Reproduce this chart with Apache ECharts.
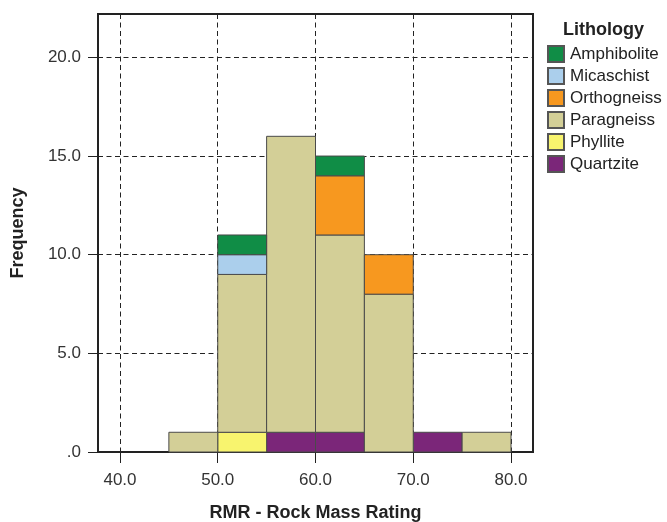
<!DOCTYPE html>
<html>
<head>
<meta charset="utf-8">
<script src="https://cdn.jsdelivr.net/npm/echarts@6/dist/echarts.min.js"></script>
<style>
  html, body { margin: 0; padding: 0; background: #fff; }
  #chart { width: 667px; height: 522px; }
</style>
</head>
<body>
<div id="chart"></div>
<script>
// Histogram bins of RMR (width 5), stacked by lithology
const binStarts = [45, 50, 55, 60, 65, 70, 75];
const binWidth = 5;

// Frequencies per bin, listed from the bottom of the stack upward
const quartzite   = [0, 0, 1, 1, 0, 1, 0];
const phyllite    = [0, 1, 0, 0, 0, 0, 0];
const paragneiss  = [1, 8, 15, 10, 8, 0, 1];
const orthogneiss = [0, 0, 0, 3, 2, 0, 0];
const micaschist  = [0, 1, 0, 0, 0, 0, 0];
const amphibolite = [0, 1, 0, 1, 0, 0, 0];

const xTicks = [40, 50, 60, 70, 80];
const legendOrder = ['Amphibolite', 'Micaschist', 'Orthogneiss', 'Paragneiss', 'Phyllite', 'Quartzite'];

const stack = [
  { name: 'Quartzite',   values: quartzite,   color: '#7b2679' },
  { name: 'Phyllite',    values: phyllite,    color: '#f8f46e' },
  { name: 'Paragneiss',  values: paragneiss,  color: '#d3cf97' },
  { name: 'Orthogneiss', values: orthogneiss, color: '#f7981f' },
  { name: 'Micaschist',  values: micaschist,  color: '#abcfec' },
  { name: 'Amphibolite', values: amphibolite, color: '#108d46' }
];

// Build [x0, x1, y0, y1] rectangles from cumulative counts
const base = binStarts.map(() => 0);
const series = stack.map(s => {
  const data = [];
  s.values.forEach((v, i) => {
    if (v > 0) {
      data.push([binStarts[i], binStarts[i] + binWidth, base[i], base[i] + v]);
      base[i] += v;
    }
  });
  return {
    name: s.name,
    type: 'custom',
    itemStyle: { color: s.color, borderColor: '#555', borderWidth: 1 },
    encode: { x: [0, 1], y: [2, 3] },
    data: data,
    renderItem: function (params, api) {
      const p0 = api.coord([api.value(0), api.value(3)]);
      const p1 = api.coord([api.value(1), api.value(2)]);
      return {
        type: 'rect',
        shape: { x: p0[0], y: p0[1], width: p1[0] - p0[0], height: p1[1] - p0[1] },
        style: { fill: s.color, stroke: '#4a4a4a', lineWidth: 1 }
      };
    }
  };
});

const font = 'Liberation Sans, Arial, sans-serif';
const chart = echarts.init(document.getElementById('chart'), null, { renderer: 'canvas' });
chart.setOption({
  animation: false,
  backgroundColor: '#ffffff',
  title: {
    text: 'Lithology',
    left: 558, top: 16,
    textStyle: { fontFamily: font, fontSize: 18, fontWeight: 'bold', color: '#222' }
  },
  legend: {
    orient: 'vertical',
    left: 542, top: 40,
    data: legendOrder,
    icon: 'rect',
    itemWidth: 16, itemHeight: 16, itemGap: 4,
    textStyle: { fontFamily: font, fontSize: 17, color: '#222', padding: [0, 0, 0, 1] }
  },
  grid: {
    left: 98, right: 134, top: 14, bottom: 70,
    outerBoundsMode: 'none',
    containLabel: false,
    show: true, borderColor: '#222', borderWidth: 2, backgroundColor: 'transparent'
  },
  xAxis: {
    type: 'value',
    min: 37.75, max: 82.25,
    interval: 10,
    name: 'RMR - Rock Mass Rating',
    nameLocation: 'middle', nameGap: 52,
    nameTextStyle: { fontFamily: font, fontSize: 18, fontWeight: 'bold', color: '#222' },
    axisLine: { show: true, lineStyle: { color: '#222', width: 2 } },
    axisTick: { show: true, length: 11, customValues: xTicks, lineStyle: { color: '#222', width: 1 } },
    axisLabel: { customValues: xTicks, margin: 20, fontFamily: font, fontSize: 17, color: '#333',
      formatter: v => v.toFixed(1) },
    splitLine: { show: true, lineStyle: { color: '#222', type: [5, 3.5], width: 1 } }
  },
  yAxis: {
    type: 'value',
    min: 0, max: 22.2,
    interval: 5,
    name: 'Frequency',
    nameLocation: 'middle', nameGap: 71,
    nameTextStyle: { fontFamily: font, fontSize: 18, fontWeight: 'bold', color: '#222' },
    axisLine: { show: true, lineStyle: { color: '#222', width: 2 } },
    axisTick: { show: true, length: 10, lineStyle: { color: '#222', width: 1 } },
    axisLabel: { showMaxLabel: false, margin: 17, fontFamily: font, fontSize: 17, color: '#333',
      formatter: v => (v === 0 ? '.0' : v.toFixed(1)) },
    splitLine: { show: true, lineStyle: { color: '#222', type: [5, 3.5], width: 1 } }
  },
  series: series
});
</script>
</body>
</html>
